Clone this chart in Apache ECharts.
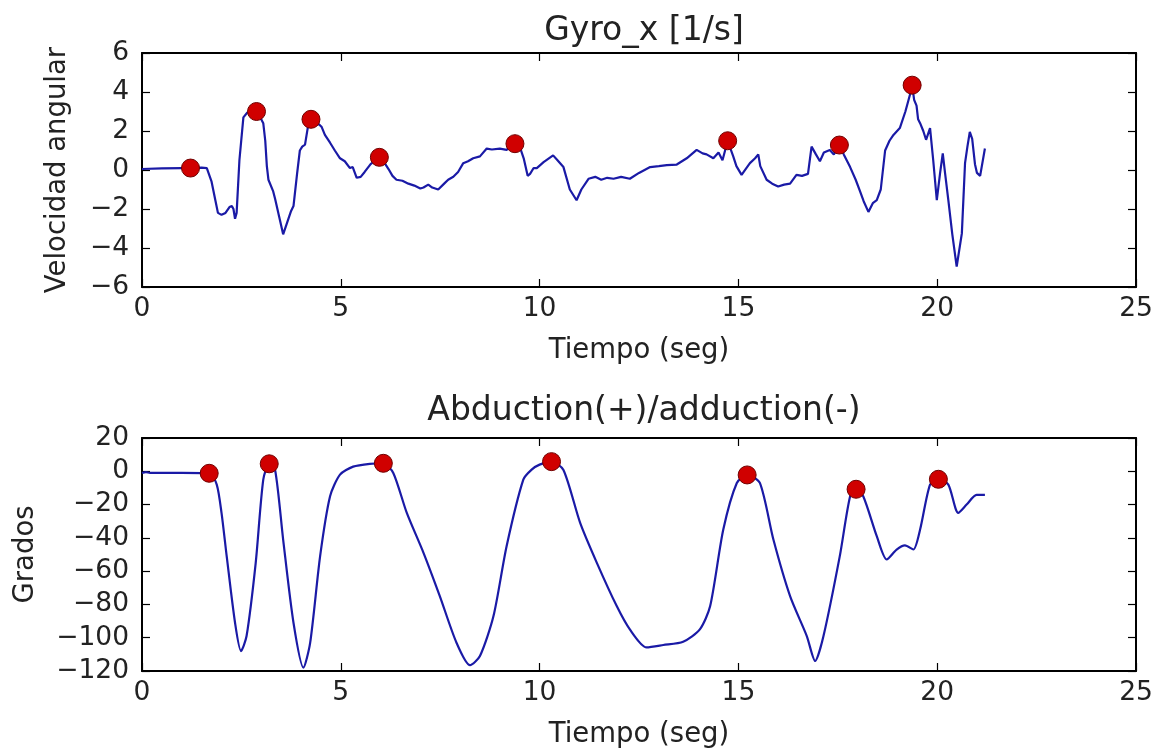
<!DOCTYPE html>
<html>
<head>
<meta charset="utf-8">
<script src="https://cdn.jsdelivr.net/npm/echarts@6/dist/echarts.min.js"></script>
<style>
html,body{margin:0;padding:0;background:#fff;}
#chart{width:1159px;height:753px;}
</style>
</head>
<body>
<div id="chart"></div>
<script>
// ---- data ----
const gyroTitle = "Gyro_x [1/s]";
const angTitle = "Abduction(+)/adduction(-)";
const xName = "Tiempo (seg)";
const gyroYName = "Velocidad angular";
const angYName = "Grados";

const gyroT = [0,0.5,1.0,1.22,1.5,1.63,1.75,1.85,1.91,2.0,2.1,2.2,2.26,2.3,2.34,2.38,2.45,2.55,2.65,2.88,2.95,3.05,3.1,3.14,3.18,3.22,3.3,3.35,3.45,3.55,3.65,3.75,3.81,3.9,3.97,4.03,4.1,4.18,4.25,4.35,4.45,4.52,4.6,4.73,4.85,4.98,5.1,5.23,5.3,5.4,5.5,5.6,5.75,5.97,6.05,6.12,6.2,6.3,6.4,6.55,6.7,6.85,7.0,7.08,7.2,7.3,7.45,7.6,7.7,7.83,7.95,8.08,8.2,8.33,8.5,8.67,8.8,9.0,9.17,9.25,9.38,9.5,9.6,9.7,9.76,9.85,9.93,10.1,10.34,10.45,10.6,10.76,10.93,11.05,11.23,11.4,11.55,11.7,11.86,12.05,12.27,12.5,12.78,13.0,13.2,13.45,13.7,13.95,14.1,14.2,14.37,14.5,14.6,14.73,14.8,14.87,14.95,15.08,15.2,15.29,15.42,15.5,15.55,15.71,15.85,16.0,16.15,16.3,16.46,16.6,16.75,16.84,16.95,17.05,17.15,17.3,17.4,17.54,17.65,17.81,17.95,18.06,18.15,18.27,18.38,18.48,18.58,18.69,18.8,18.9,19.06,19.2,19.32,19.37,19.42,19.48,19.52,19.57,19.65,19.72,19.82,19.9,19.99,20.07,20.14,20.2,20.28,20.38,20.49,20.62,20.7,20.76,20.82,20.88,20.95,21.0,21.08,21.2];
const gyroV = [0.05,0.08,0.1,0.1,0.12,0.1,-0.6,-1.6,-2.2,-2.3,-2.2,-1.9,-1.85,-2.0,-2.5,-2.2,0.5,2.7,2.95,3.0,2.8,2.4,1.5,0.2,-0.5,-0.4,-1.1,-1.5,-2.4,-3.3,-2.7,-2.1,-1.85,-0.2,1.0,1.2,1.3,2.3,2.6,2.3,2.35,2.2,1.8,1.4,1.0,0.6,0.45,0.1,0.15,-0.4,-0.35,-0.1,0.3,0.65,0.55,0.3,0.05,-0.3,-0.5,-0.55,-0.7,-0.8,-0.95,-0.9,-0.75,-0.9,-1.0,-0.7,-0.5,-0.35,-0.1,0.35,0.45,0.6,0.7,1.1,1.05,1.1,1.03,1.2,1.35,1.2,0.6,-0.3,-0.2,0.1,0.1,0.4,0.75,0.5,0.15,-1.0,-1.55,-1.0,-0.45,-0.35,-0.5,-0.4,-0.45,-0.35,-0.45,-0.15,0.15,0.2,0.25,0.28,0.6,1.03,0.85,0.8,0.6,0.9,0.5,1.5,1.1,0.7,0.2,-0.25,0.1,0.35,0.6,0.8,0.2,-0.5,-0.7,-0.85,-0.75,-0.7,-0.25,-0.3,-0.2,1.2,0.8,0.45,0.9,1.03,0.8,1.28,0.8,0.15,-0.5,-1.1,-1.6,-2.15,-1.7,-1.55,-1.0,1.0,1.5,1.8,2.15,3.0,3.9,4.35,3.6,3.3,2.6,2.4,2.0,1.55,2.15,0.5,-1.55,-0.2,0.85,-0.2,-1.55,-3.3,-4.95,-3.25,0.35,1.2,1.95,1.6,0.3,-0.15,-0.3,1.1];
const gyroPeakT = [1.22,2.88,4.25,5.97,9.38,14.73,17.54,19.37];
const gyroPeakV = [0.1,3.0,2.6,0.65,1.35,1.5,1.28,4.35];

const angT = [0,0.1,0.2,1.0,1.69,1.88,2.0,2.13,2.34,2.49,2.63,2.86,3.05,3.2,3.35,3.55,3.81,4.06,4.23,4.48,4.73,4.98,5.31,5.73,6.07,6.32,6.66,7.08,7.49,7.91,8.25,8.5,8.84,9.17,9.59,9.8,10.0,10.3,10.6,11.02,11.44,11.94,12.27,12.69,13.11,13.61,14.03,14.29,14.62,14.96,15.22,15.54,15.88,16.3,16.72,16.93,17.14,17.55,17.81,17.96,18.14,18.48,18.73,18.98,19.19,19.4,19.57,19.82,20.03,20.28,20.53,20.74,20.99,21.2];
const angV = [-1,-0.5,-1,-1,-1.2,-8,-25,-51,-91,-108,-99,-55,-5,4.5,0.5,-41,-91,-118,-103,-51,-15,-2,2.8,4.5,4.8,-1,-25,-49,-75,-103,-116.5,-111,-87,-45,-5,1,4,5.8,0.8,-31,-55,-81,-95,-105.8,-104.4,-102.4,-95,-81,-35,-7,-2.2,-7,-41,-75,-99,-114,-99,-51,-15,-10.8,-15,-39,-53,-47,-44.5,-47,-35,-8,-4.8,-8,-25,-20,-14.2,-14.2];
const angPeakT = [1.69,3.2,6.07,10.3,15.22,17.96,20.03];
const angPeakV = [-1.2,4.5,4.8,5.8,-2.2,-10.8,-4.8];

const xTicks = [0,5,10,15,20,25];
const gyroYTicks = [-6,-4,-2,0,2,4,6];
const angYTicks = [-120,-100,-80,-60,-40,-20,0,20];

// ---- chart ----
const FONT = "DejaVu Sans";
const LINE = "#1a1aa6";
const fmt = v => String(v).replace('-', '\u2212');
const pairs = (a, b) => a.map((t, i) => [t, b[i]]);

function xAx(grid, main) {
  return {
    type: 'value', gridIndex: grid, position: main ? 'bottom' : 'top',
    min: xTicks[0], max: xTicks[xTicks.length - 1], interval: xTicks[1] - xTicks[0],
    name: main ? xName : '', nameLocation: 'middle', nameGap: 50,
    nameTextStyle: {fontFamily: FONT, fontSize: 27.5, color: '#222'},
    axisLine: {show: true, onZero: false, lineStyle: {color: '#000', width: 2}},
    axisTick: {show: true, inside: true, length: 8, lineStyle: {color: '#000', width: 1.2}},
    axisLabel: {show: main, fontFamily: FONT, fontSize: 26.5, color: '#222', margin: 9, formatter: fmt},
    splitLine: {show: false}
  };
}
function yAx(grid, main, ticks, name, gap) {
  return {
    type: 'value', gridIndex: grid, position: main ? 'left' : 'right',
    min: ticks[0], max: ticks[ticks.length - 1], interval: ticks[1] - ticks[0],
    name: main ? name : '', nameLocation: 'middle', nameGap: gap, nameRotate: 90,
    nameTextStyle: {fontFamily: FONT, fontSize: 27.5, color: '#222'},
    axisLine: {show: true, onZero: false, lineStyle: {color: '#000', width: 2}},
    axisTick: {show: true, inside: true, length: 8, lineStyle: {color: '#000', width: 1.2}},
    axisLabel: {show: main, fontFamily: FONT, fontSize: 26.5, color: '#222', margin: 13, formatter: fmt},
    splitLine: {show: false}
  };
}
const marker = {color: '#d00000', borderColor: '#700000', borderWidth: 1, opacity: 1};

const option = {
  animation: false,
  backgroundColor: '#fff',
  title: [
    {text: gyroTitle, left: 639, top: 10, textAlign: 'center',
     textStyle: {fontFamily: FONT, fontSize: 33, fontWeight: 'normal', color: '#222'}},
    {text: angTitle, left: 639, top: 390, textAlign: 'center',
     textStyle: {fontFamily: FONT, fontSize: 33, fontWeight: 'normal', color: '#222'}}
  ],
  grid: [
    {left: 142, top: 53, width: 994, height: 234},
    {left: 142, top: 438, width: 994, height: 233}
  ],
  xAxis: [xAx(0, true), xAx(0, false), xAx(1, true), xAx(1, false)],
  yAxis: [yAx(0, true, gyroYTicks, gyroYName, 70), yAx(0, false, gyroYTicks, '', 0),
          yAx(1, true, angYTicks, angYName, 102), yAx(1, false, angYTicks, '', 0)],
  series: [
    {type: 'line', xAxisIndex: 0, yAxisIndex: 0, data: pairs(gyroT, gyroV), showSymbol: false,
     lineStyle: {color: LINE, width: 2.2}, z: 2},
    {type: 'scatter', xAxisIndex: 0, yAxisIndex: 0, data: pairs(gyroPeakT, gyroPeakV),
     symbolSize: 18, itemStyle: marker, z: 3},
    {type: 'line', xAxisIndex: 2, yAxisIndex: 2, data: pairs(angT, angV), showSymbol: false, smooth: 0.25,
     lineStyle: {color: LINE, width: 2.2}, z: 2},
    {type: 'scatter', xAxisIndex: 2, yAxisIndex: 2, data: pairs(angPeakT, angPeakV),
     symbolSize: 18, itemStyle: marker, z: 3}
  ]
};
const chart = echarts.init(document.getElementById('chart'), null, {renderer: 'canvas'});
chart.setOption(option);
</script>
</body>
</html>
